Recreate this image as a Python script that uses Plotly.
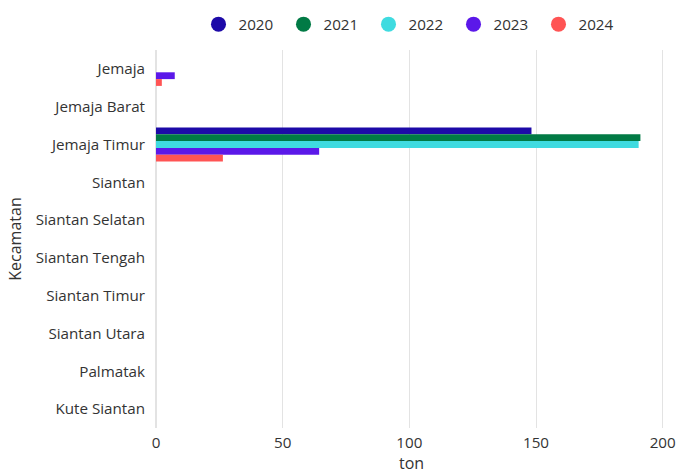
import plotly.graph_objects as go

kecamatan = ["Jemaja", "Jemaja Barat", "Jemaja Timur", "Siantan", "Siantan Selatan",
             "Siantan Tengah", "Siantan Timur", "Siantan Utara", "Palmatak", "Kute Siantan"]
years = ["2020", "2021", "2022", "2023", "2024"]
v2020 = [0, 0, 148.2, 0, 0, 0, 0, 0, 0, 0]
v2021 = [0, 0, 191.2, 0, 0, 0, 0, 0, 0, 0]
v2022 = [0, 0, 190.5, 0, 0, 0, 0, 0, 0, 0]
v2023 = [7.4, 0, 64.4, 0, 0, 0, 0, 0, 0, 0]
v2024 = [2.3, 0, 26.4, 0, 0, 0, 0, 0, 0, 0]
series = [v2020, v2021, v2022, v2023, v2024]
colors = ["#1d0aa8", "#017a45", "#3fdbe0", "#5b18e9", "#ff5454"]
x_title = "ton"
y_title = "Kecamatan"

fig = go.Figure()
for yr, vals, c in zip(years, series, colors):
    fig.add_trace(go.Bar(
        y=kecamatan, x=vals, name=yr, orientation="h",
        marker=dict(color=c, line=dict(width=0)),
        legendgroup=yr, showlegend=False,
    ))
for yr, c in zip(years, colors):
    fig.add_trace(go.Scatter(
        x=[None], y=[None], mode="markers", name=yr, legendgroup=yr,
        marker=dict(symbol="circle", size=15, color=c),
    ))

fig.update_layout(
    width=679, height=470,
    margin=dict(l=156, r=13, t=50, b=42, autoexpand=False),
    paper_bgcolor="white", plot_bgcolor="white",
    font=dict(family="Open Sans", size=15.2, color="#333333"),
    barmode="group", bargap=0.1, bargroupgap=0,
    showlegend=True,
    legend=dict(orientation="h", x=0.5, xanchor="center", y=1.068, yanchor="middle",
                font=dict(size=15.2), itemwidth=30, entrywidth=40, entrywidthmode="pixels",
                traceorder="normal"),
    xaxis=dict(range=[0, 201.3], tickvals=[0, 50, 100, 150, 200],
               showgrid=True, gridcolor="#e3e3e3", gridwidth=1,
               zeroline=True, zerolinecolor="#e3e3e3", zerolinewidth=2,
               ticks="", ticklabelstandoff=4, automargin=False, showline=False),
    yaxis=dict(autorange="reversed", showgrid=False, zeroline=False, automargin=True,
               title=dict(text=y_title, standoff=10, font=dict(size=16)),
               ticks="", ticklabelstandoff=10),
    annotations=[dict(text=x_title, xref="paper", yref="paper", x=0.5, y=-0.093,
                      xanchor="center", yanchor="middle", showarrow=False,
                      font=dict(size=16))],
)
fig.write_html("out.html", config={"displayModeBar": False},
               post_script="document.body.style.margin='0';document.body.style.overflow='hidden';")
